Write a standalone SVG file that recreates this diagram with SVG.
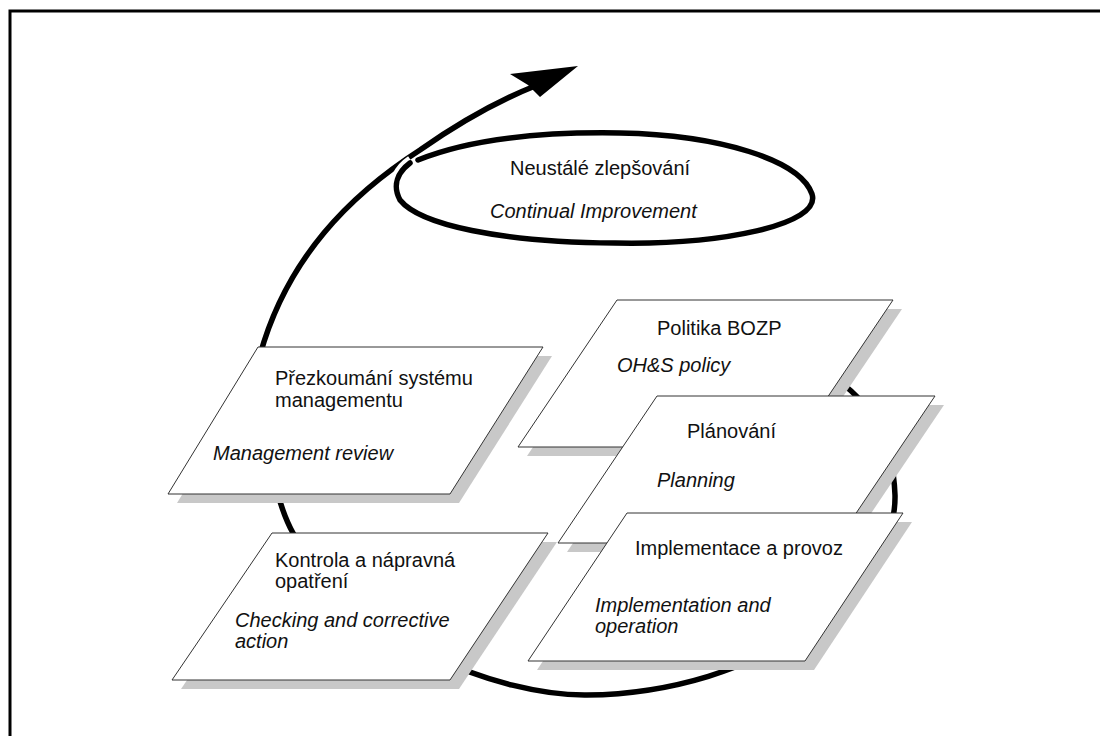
<svg xmlns="http://www.w3.org/2000/svg" width="1100" height="736" viewBox="0 0 1100 736">
<style>
.frame{fill:none;stroke:#000;stroke-width:3}
.loop{fill:none;stroke:#000;stroke-width:5.5;stroke-linecap:round}
.halo{fill:none;stroke:#fff;stroke-width:14}
.ell{fill:none;stroke:#000;stroke-width:5.5;stroke-linecap:round}
.sh{fill:#c8c8c8}
.box{fill:#fff;stroke:#333;stroke-width:1}
.t{font-family:"Liberation Sans",Arial,sans-serif;font-size:20px;fill:#111}
.i{font-style:italic}
</style>
<rect class="frame" x="10" y="11" width="1200" height="800"/>
<g id="connectors">
<path class="loop" d="M830,375 C870,400 893,440 895,495 C897,590 760,693 587,695 C500,696 350,640 293,533 C276,503 254,410 260,355 C287,258 350,195 420,150 C460,122 500,100 535,86"/>
<polygon points="510,74 578,66 540,97 528,85" fill="#000"/>
</g>
<g id="node-improvement">
<path class="halo" d="M398,195 C394,182 400,170 412,162"/>
<path class="ell" d="M418,160 C480,135 560,132 620,133 C720,135 800,160 812,194 C822,225 720,245 615,243 C500,242 420,225 400,200 C392,185 398,172 410,163"/>
<text class="t" x="510" y="175">Neustálé zlepšování</text>
<text class="t i" x="490" y="218">Continual Improvement</text>
</g>
<g id="node-review">
<polygon class="sh" points="267,356 552,356 459,503 177,503"/>
<polygon class="box" points="258,347 543,347 450,494 168,494"/>
<text class="t" x="275" y="385">Přezkoumání systému</text>
<text class="t" x="275" y="407">managementu</text>
<text class="t i" x="213" y="460">Management review</text>
</g>
<g id="node-checking">
<polygon class="sh" points="281,542 557,542 459,689 181,689"/>
<polygon class="box" points="272,533 548,533 450,680 172,680"/>
<text class="t" x="275" y="567">Kontrola a nápravná</text>
<text class="t" x="275" y="588">opatření</text>
<text class="t i" x="235" y="627">Checking and corrective</text>
<text class="t i" x="235" y="648">action</text>
</g>
<g id="node-policy">
<polygon class="sh" points="626,309 902,309 803,456 527,456"/>
<polygon class="box" points="617,300 893,300 794,447 518,447"/>
<text class="t" x="657" y="335">Politika BOZP</text>
<text class="t i" x="617" y="372">OH&amp;S policy</text>
</g>
<g id="node-planning">
<polygon class="sh" points="666,405 944,405 845,552 567,552"/>
<polygon class="box" points="657,396 935,396 836,543 558,543"/>
<text class="t" x="687" y="438">Plánování</text>
<text class="t i" x="657" y="487">Planning</text>
</g>
<g id="node-implementation">
<polygon class="sh" points="636,522 912,522 814,670 537,670"/>
<polygon class="box" points="627,513 903,513 805,661 528,661"/>
<text class="t" x="635" y="555">Implementace a provoz</text>
<text class="t i" x="595" y="612">Implementation and</text>
<text class="t i" x="595" y="633">operation</text>
</g>
</svg>
